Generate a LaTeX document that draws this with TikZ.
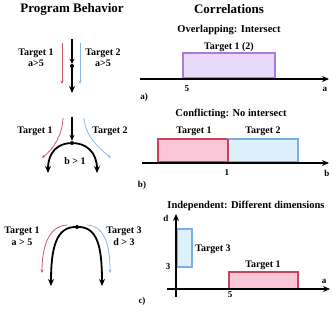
\documentclass[tikz,border=0pt]{standalone}
\usepackage{fontspec}
\setmainfont{Liberation Serif}
\usetikzlibrary{arrows.meta}
\definecolor{tred}{HTML}{D05670}
\definecolor{tblue}{HTML}{8CB6E8}
\definecolor{pborder}{HTML}{A97BE0}
\definecolor{pfill}{HTML}{E8DAFA}
\definecolor{rborder}{HTML}{C8435E}
\definecolor{rfill}{HTML}{FAC6D8}
\definecolor{bborder}{HTML}{78AEEA}
\definecolor{bfill}{HTML}{DDF1FB}
\tikzset{
  title/.style={font=\fontsize{13}{15}\selectfont\bfseries, inner sep=0pt},
  sub/.style={font=\fontsize{10.5}{12}\selectfont\bfseries, inner sep=0pt},
  lab/.style={font=\fontsize{10}{12}\selectfont\bfseries, inner sep=0pt, align=center},
  tick/.style={font=\fontsize{9}{11}\selectfont\bfseries, inner sep=0pt},
  flow/.style={line width=1.8pt, -{Stealth[length=7pt,width=6pt]}},
  redpath/.style={tred, line width=0.8pt, -{Stealth[length=3.5pt,width=3pt]}},
  bluepath/.style={tblue, line width=0.8pt, -{Stealth[length=3.5pt,width=3pt]}},
  axis/.style={line width=1.5pt, -{Stealth[length=7pt,width=6pt]}},
  dotn/.style={circle, fill=black, inner sep=0pt, minimum size=4pt},
}
\begin{document}
\begin{tikzpicture}[x=1pt,y=-1pt]
\useasboundingbox (0,0) rectangle (333,310);
% titles
\node[title] (t1) at (72,9) {Program Behavior};
\node[title] (t2) at (229,9) {Correlations};

% ---- panel a, left
\coordinate (aTop) at (72,39);
\node[dotn] (aDot) at (72,66) {};
\coordinate (aBot) at (72,93);
\draw[line width=1.8pt, -{Stealth[length=5pt,width=5pt]}] (aTop) -- (aDot.north);
\draw[flow] (aDot) -- (aBot);
\coordinate (aR1) at (62,43); \coordinate (aR2) at (62,84);
\coordinate (aB1) at (80,43); \coordinate (aB2) at (80,84);
\draw[redpath] (aR1) -- (aR2);
\draw[bluepath] (aB1) -- (aB2);
\node[lab] (aL1) at (36,58) {Target 1\\[-1pt]a>5};
\node[lab] (aL2) at (103,58) {Target 2\\[-1pt]a>5};

% ---- panel b, left
\coordinate (bTop) at (72,117);
\node[dotn] (bDot) at (72,143) {};
\draw[line width=1.8pt, -{Stealth[length=6pt,width=5pt]}] (bTop) -- (bDot.north);
\coordinate (bL) at (48,173);
\coordinate (bR) at (97,173);
\draw[flow] (bDot.center) .. controls (58,143) and (48,152) .. (bL);
\draw[flow] (bDot.center) .. controls (86,143) and (97,152) .. (bR);
\coordinate (bR1) at (63,118); \coordinate (bR2) at (42,158);
\coordinate (bB1) at (84,118); \coordinate (bB2) at (111,158);
\draw[redpath] (bR1) .. controls (62,136) and (54,148) .. (bR2);
\draw[bluepath] (bB1) .. controls (85,136) and (99,148) .. (bB2);
\node[lab] (bL1) at (35,131) {Target 1};
\node[lab] (bL2) at (110,131) {Target 2};
\node[lab] (bC) at (75,161) {b > 1};

% ---- panel c, left
\node[dotn] (cDot) at (77,227) {};
\coordinate (cL) at (51,286);
\coordinate (cR) at (102,286);
\draw[flow] (cDot.center) .. controls (56,226) and (51,248) .. (cL);
\draw[flow] (cDot.center) .. controls (98,226) and (102,248) .. (cR);
\coordinate (cR1) at (67,225); \coordinate (cR2) at (42,273);
\coordinate (cB1) at (87,225); \coordinate (cB2) at (110,273);
\draw[redpath] (cR1) .. controls (48,226) and (42,248) .. (cR2);
\draw[bluepath] (cB1) .. controls (106,226) and (110,248) .. (cB2);
\node[lab] (cL1) at (22,236) {Target 1\\[0pt]a > 5};
\node[lab] (cL2) at (124,236) {Target 3\\[0pt]d > 3};

% ---- panel a, right
\node[sub] (sa) at (229,30) {Overlapping: Intersect};
\node[lab] (ta) at (229,47) {Target 1 (2)};
\draw[pborder, fill=pfill, line width=1.4pt] (183,53) rectangle (275,78);
\coordinate (ax0) at (140,79); \coordinate (ax1) at (329,79);
\draw[axis] (ax0) -- (ax1);
\node[tick] (a5) at (187,89) {5};
\node[tick] (aa) at (325,89) {a};
\node[tick] (apl) at (144,97) {a)};

% ---- panel b, right
\node[sub] (sb) at (231,114) {Conflicting: No intersect};
\node[lab] (tb1) at (194,131) {Target 1};
\node[lab] (tb2) at (263,131) {Target 2};
\draw[rborder, fill=rfill, line width=1.4pt] (158,139) rectangle (228,162);
\draw[bborder, fill=bfill, line width=1.4pt] (228,139) rectangle (298,162);
\draw[rborder, line width=1.4pt] (228,139) -- (228,162);
\coordinate (bx0) at (142,163); \coordinate (bx1) at (329,163);
\draw[axis] (bx0) -- (bx1);
\node[tick] (b1) at (227,173) {1};
\node[tick] (bb) at (327,173) {b};
\node[tick] (bpl) at (142,185) {b)};

% ---- panel c, right
\node[sub] (sc) at (246,206) {Independent: Different dimensions};
\draw[bborder, fill=bfill, line width=1.4pt] (177.5,229) rectangle (192,267);
\draw[rborder, fill=rfill, line width=1.4pt] (229,272) rectangle (298,289);
\coordinate (cx0) at (167,289); \coordinate (cx1) at (330,289);
\coordinate (cy0) at (176,297); \coordinate (cy1) at (176,214);
\draw[axis] (cx0) -- (cx1);
\draw[axis] (cy0) -- (cy1);
\node[lab] (tc3) at (213,249) {Target 3};
\node[lab] (tc1) at (263,265) {Target 1};
\node[tick] (cd) at (166,218) {d};
\node[tick] (c3) at (168,267) {3};
\node[tick] (ca) at (324,281) {a};
\node[tick] (c5) at (230,295) {5};
\node[tick] (cpl) at (142,301) {c)};
\end{tikzpicture}
\end{document}
